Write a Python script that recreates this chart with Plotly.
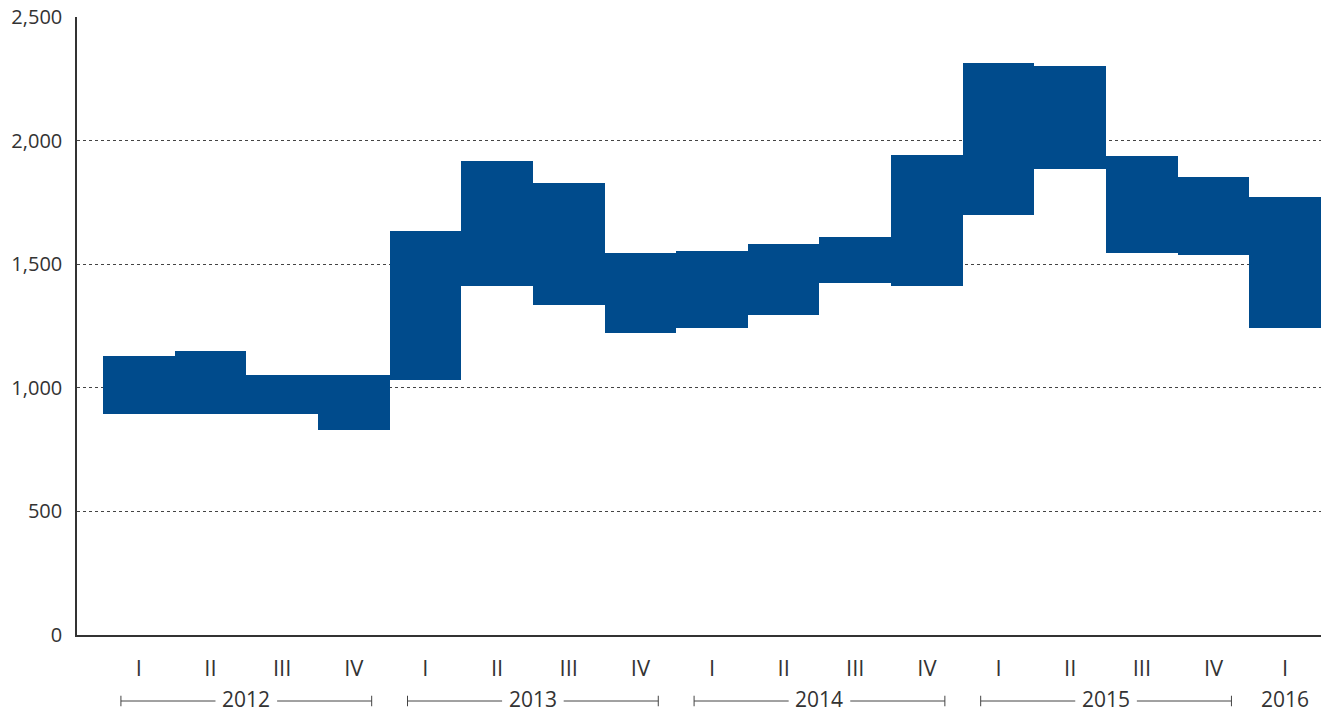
import plotly.graph_objects as go

quarters = ["I", "II", "III", "IV", "I", "II", "III", "IV", "I", "II", "III", "IV",
            "I", "II", "III", "IV", "I"]
years = ["2012", "2013", "2014", "2015", "2016"]
year_counts = [4, 4, 4, 4, 1]
low = [895, 895, 895, 830, 1031, 1411, 1335, 1222, 1241, 1294, 1423, 1411,
       1699, 1885, 1544, 1536, 1241]
high = [1128, 1148, 1051, 1051, 1633, 1916, 1827, 1544, 1552, 1580, 1609, 1940,
        2312, 2303, 1936, 1851, 1770]

xs = list(range(len(quarters)))
FONT = "Open Sans"
TXT = "#333333"

fig = go.Figure(go.Bar(
    x=xs, y=[h - l for h, l in zip(high, low)], base=low, width=1.0,
    marker=dict(color="#004B8C", line=dict(width=0)), hoverinfo="skip"))

shapes = []
annotations = []
start = 0
yb = -0.1068
gap = 0.43
line_style = dict(color="#444", width=1)
for yr, n in zip(years, year_counts):
    center = start + (n - 1) / 2
    if n > 1:
        x0, x1 = start - 0.25, start + n - 1 + 0.25
        for a, b in ((x0, center - gap), (center + gap, x1)):
            shapes.append(dict(type="line", xref="x", yref="paper", x0=a, x1=b, y0=yb, y1=yb,
                               line=line_style))
        for xe in (x0, x1):
            shapes.append(dict(type="line", xref="x", yref="paper", x0=xe, x1=xe,
                               y0=yb - 0.0085, y1=yb + 0.0085, line=line_style))
    annotations.append(dict(x=center, y=-79 / 618, xref="x", yref="paper", text=yr,
                            showarrow=False, borderpad=0,
                            font=dict(family=FONT, size=21, color=TXT),
                            yanchor="bottom", xanchor="center"))
    start += n

fig.update_layout(
    width=1321, height=714, margin=dict(l=77, r=0, t=17, b=79),
    plot_bgcolor="white", paper_bgcolor="white", showlegend=False, bargap=0,
    shapes=shapes, annotations=annotations,
    xaxis=dict(range=[-0.863, 16.5], tickvals=xs, ticktext=quarters, showgrid=False,
               showline=True, linecolor="#333", linewidth=1.5, zeroline=False,
               ticks="", ticklabelstandoff=13,
               tickfont=dict(family=FONT, size=22, color=TXT)),
    yaxis=dict(range=[0, 2500], tickvals=[0, 500, 1000, 1500, 2000, 2500],
               tickformat=",", showgrid=True, gridcolor="#444", griddash="dot", gridwidth=1,
               showline=True, linecolor="#333", linewidth=1.5, zeroline=False,
               ticks="", ticklabelstandoff=9,
               tickfont=dict(family=FONT, size=20, color=TXT)),
)
fig.write_html("out.html", config={"displayModeBar": False},
               post_script="document.body.style.margin='0';document.body.style.overflow='hidden';")
